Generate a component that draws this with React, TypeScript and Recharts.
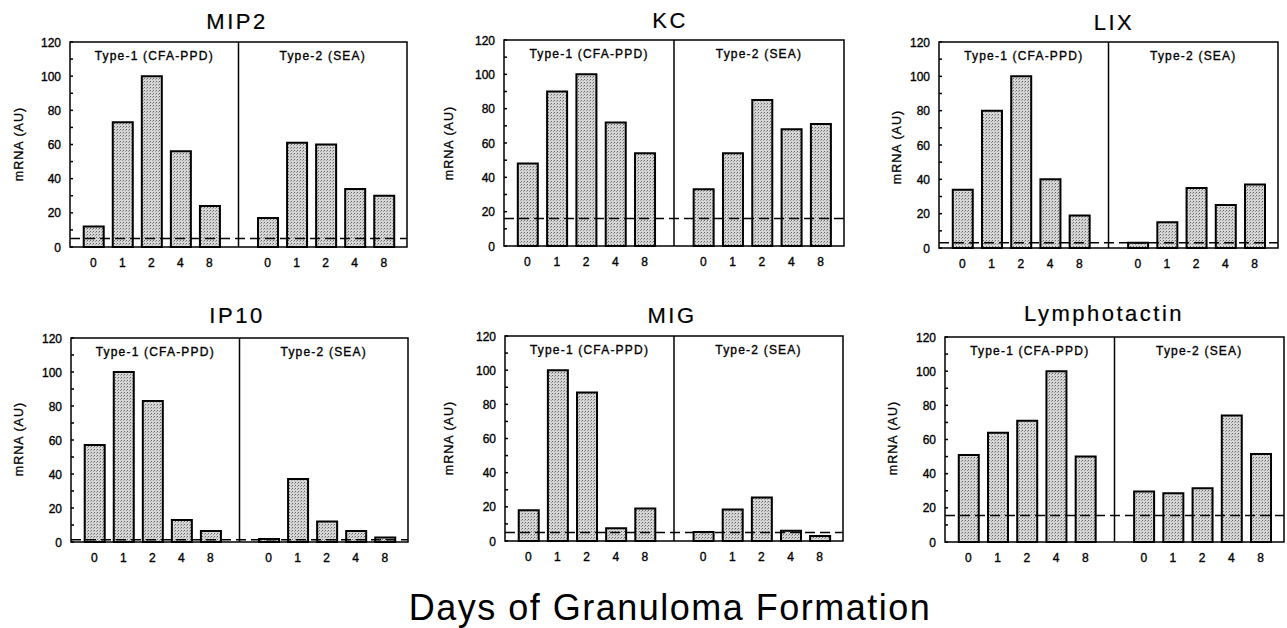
import React from 'react';
import { BarChart, Bar, XAxis, YAxis, ReferenceLine, ReferenceArea } from 'recharts';

// days after challenge, same for both granuloma types
const days = ['0', '1', '2', '4', '8'];
const groupLabels = ['Type-1 (CFA-PPD)', 'Type-2 (SEA)'];
const yTicks = [0, 10, 20, 30, 40, 50, 60, 70, 80, 90, 100, 110, 120];

const mip2Type1 = [12, 73, 100, 56, 24];
const mip2Type2 = [17, 61, 60, 34, 30];
const mip2Baseline = 5;

const kcType1 = [48, 90, 100, 72, 54];
const kcType2 = [33, 54, 85, 68, 71];
const kcBaseline = 16;

const lixType1 = [34, 80, 100, 40, 19];
const lixType2 = [3, 15, 35, 25, 37];
const lixBaseline = 3;

const ip10Type1 = [57, 100, 83, 13, 6.5];
const ip10Type2 = [1.8, 37, 12, 6.5, 2.7];
const ip10Baseline = 1.3;

const migType1 = [18, 100, 87, 7.5, 19];
const migType2 = [5.3, 18.5, 25.5, 6, 3];
const migBaseline = 5;

const lymphoType1 = [51, 64, 71, 100, 50];
const lymphoType2 = [29.5, 28.5, 31.5, 74, 51.5];
const lymphoBaseline = 15.5;

const panels = [
  { key: 'mip2', title: 'MIP2', type1: mip2Type1, type2: mip2Type2, baseline: mip2Baseline },
  { key: 'kc', title: 'KC', type1: kcType1, type2: kcType2, baseline: kcBaseline },
  { key: 'lix', title: 'LIX', type1: lixType1, type2: lixType2, baseline: lixBaseline },
  { key: 'ip10', title: 'IP10', type1: ip10Type1, type2: ip10Type2, baseline: ip10Baseline },
  { key: 'mig', title: 'MIG', type1: migType1, type2: migType2, baseline: migBaseline },
  { key: 'lympho', title: 'Lymphotactin', type1: lymphoType1, type2: lymphoType2, baseline: lymphoBaseline },
];

// plot box [left, top, right, bottom] and text anchors, page pixels
const layout = [
  { box: [70, 42, 407, 247], titleX: 237, titleY: 29, labelX: 18, labelY: 144 },
  { box: [504, 40, 844, 246], titleX: 670, titleY: 28, labelX: 448, labelY: 143 },
  { box: [939, 42, 1278, 248], titleX: 1114, titleY: 30, labelX: 896, labelY: 147 },
  { box: [71, 338, 408, 542], titleX: 237, titleY: 323, labelX: 18, labelY: 439 },
  { box: [505, 336, 843, 541], titleX: 672, titleY: 323, labelX: 448, labelY: 438 },
  { box: [945, 337, 1284, 542], titleX: 1104, titleY: 321, labelX: 892, labelY: 438 },
];

const FONT = '"Liberation Sans", Arial, Helvetica, sans-serif';
const X_MIN = 0.2;
const X_MAX = 11.8;
const DIVIDER = 6;
const M_LEFT = 70;
const M_TOP = 42;

const toRows = (t1: number[], t2: number[]) => [
  ...t1.map((v, i) => ({ pos: i + 1, value: v })),
  ...t2.map((v, i) => ({ pos: i + 7, value: v })),
];

const YTick = (props: any) => {
  const { x, y, payload } = props;
  const v = payload.value;
  return (
    <g>
      <line x1={x} x2={x + 3} y1={y} y2={y} stroke="#000" strokeWidth={1.5} />
      {v % 20 === 0 && (
        <text
          x={x - 9}
          y={y}
          dy={4.5}
          textAnchor="end"
          fontSize={12}
          fontFamily={FONT}
          fill="#000"
          stroke="#000"
          strokeWidth={0.35}
        >
          {v}
        </text>
      )}
    </g>
  );
};

const smallText = {
  fontSize: 12,
  fontFamily: FONT,
  fill: '#000',
  stroke: '#000',
  strokeWidth: 0.35,
};

const Panel = ({ panel, box }: { panel: (typeof panels)[number]; box: number[] }) => {
  const [l, t, r, b] = box;
  const width = r - l + M_LEFT + 5;
  const height = b - t + M_TOP + 30;
  const rows = toRows(panel.type1, panel.type2);
  const fillId = `stipple-${panel.key}`;
  return (
    <div style={{ position: 'absolute', left: l - M_LEFT, top: t - M_TOP }}>
      <BarChart
        width={width}
        height={height}
        data={rows}
        margin={{ top: M_TOP, right: 5, left: M_LEFT - 30, bottom: 0 }}
      >
        <defs>
          <pattern id={fillId} width={3} height={3} patternUnits="userSpaceOnUse">
            <rect width={3} height={3} fill="#d6d6d6" />
            <rect width={1} height={1} fill="#666" />
            <rect x={2} y={1} width={1} height={1} fill="#999" />
          </pattern>
        </defs>
        <XAxis
          dataKey="pos"
          type="number"
          domain={[X_MIN, X_MAX]}
          ticks={[1, 2, 3, 4, 5, 7, 8, 9, 10, 11]}
          tickFormatter={(p: number) => days[(p - 1) % 6]}
          axisLine={false}
          tickLine={false}
          tickSize={0}
          tickMargin={11}
          height={30}
          tick={smallText}
        />
        <YAxis
          type="number"
          domain={[0, 120]}
          ticks={yTicks}
          interval={0}
          axisLine={false}
          tickLine={false}
          tickSize={0}
          tickMargin={0}
          width={30}
          tick={<YTick />}
        />
        <ReferenceArea
          x1={X_MIN}
          x2={DIVIDER}
          y1={0}
          y2={120}
          fill="none"
          fillOpacity={0}
          stroke="none"
          label={{ value: groupLabels[0], position: 'insideTop', offset: 9, letterSpacing: 1.2, ...smallText }}
        />
        <ReferenceArea
          x1={DIVIDER}
          x2={X_MAX}
          y1={0}
          y2={120}
          fill="none"
          fillOpacity={0}
          stroke="none"
          label={{ value: groupLabels[1], position: 'insideTop', offset: 9, letterSpacing: 1.2, ...smallText }}
        />
        <Bar
          dataKey="value"
          barSize={20}
          fill={`url(#${fillId})`}
          stroke="#000"
          strokeWidth={2}
          isAnimationActive={false}
        />
        <ReferenceLine y={panel.baseline} stroke="#000" strokeWidth={1.5} strokeDasharray="10 5" />
        <ReferenceLine x={DIVIDER} stroke="#000" strokeWidth={1.5} />
        <ReferenceArea
          x1={X_MIN}
          x2={X_MAX}
          y1={0}
          y2={120}
          fill="none"
          fillOpacity={0}
          stroke="#000"
          strokeWidth={1.5}
        />
      </BarChart>
    </div>
  );
};

const App = () => {
  return (
    <div style={{ position: 'absolute', left: 0, top: 0, width: 1287, height: 628, background: '#fff' }}>
      {panels.map((p, i) => (
        <Panel key={p.key} panel={p} box={layout[i].box} />
      ))}
      <svg
        width={1287}
        height={628}
        style={{ position: 'absolute', left: 0, top: 0, pointerEvents: 'none' }}
        fontFamily={FONT}
      >
        {panels.map((p, i) => (
          <g key={p.key}>
            <text
              x={layout[i].titleX}
              y={layout[i].titleY}
              textAnchor="middle"
              fontSize={22}
              letterSpacing={2.5}
              fill="#000"
              stroke="#000"
              strokeWidth={0.2}
            >
              {p.title}
            </text>
            <text
              x={layout[i].labelX}
              y={layout[i].labelY}
              transform={`rotate(-90 ${layout[i].labelX} ${layout[i].labelY})`}
              textAnchor="middle"
              dy={4.5}
              fontSize={12.5}
              letterSpacing={1}
              fill="#000"
              stroke="#000"
              strokeWidth={0.3}
            >
              mRNA (AU)
            </text>
          </g>
        ))}
        <text x={670} y={620} textAnchor="middle" fontSize={36} letterSpacing={1.5} fill="#000">
          Days of Granuloma Formation
        </text>
      </svg>
    </div>
  );
};

export default App;
